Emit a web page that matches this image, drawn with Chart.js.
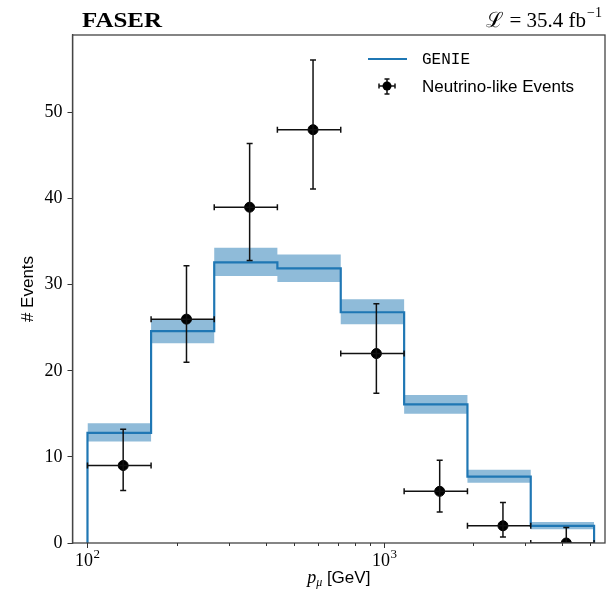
<!DOCTYPE html>
<html>
<head>
<meta charset="utf-8">
<script src="https://cdn.jsdelivr.net/npm/chart.js@4.4.1/dist/chart.umd.min.js"></script>
<style>
  body { margin: 0; background: #fff; }
  canvas { display: block; }
</style>
</head>
<body>
<canvas id="faserChart" width="606" height="597"></canvas>
<script>
// bins in p_mu (GeV), log spaced
const binEdges = [100, 164, 268, 438, 717, 1174, 1921, 3143, 5144];
const binCenters = [132, 216, 353, 578, 946, 1548, 2532, 4144];

// GENIE prediction + uncertainty band
const genie   = [12.8, 24.6, 32.6, 31.9, 26.8, 16.1, 7.7, 2.0];
const genieHi = [13.9, 26.0, 34.3, 33.5, 28.3, 17.2, 8.5, 2.45];
const genieLo = [11.8, 23.2, 31.0, 30.3, 25.4, 15.0, 7.0, 1.6];

// observed neutrino-like events
const events   = [9, 26, 39, 48, 22, 6, 2, 0];
const eventsHi = [13.2, 32.2, 46.4, 56.1, 27.8, 9.6, 4.7, 1.8];
const eventsLo = [6.1, 21.0, 32.8, 41.1, 17.4, 3.6, 0.7, 0];

const xMajorTicks = [100, 1000];
const xMinorTicks = [200, 300, 400, 500, 600, 700, 800, 900, 2000, 3000, 4000, 5000];
const xTickExp = {100: '2', 1000: '3'};
const yTicks = [0, 10, 20, 30, 40, 50];

const blue = '#1f77b4';
const serif = '"Liberation Serif", "DejaVu Serif", serif';
const sans = '"Liberation Sans", Arial, sans-serif';

// histogram outline points (stepped)
function stepPoints(vals, closed) {
  const pts = [];
  const n = vals.length;
  if (closed) pts.push({x: binEdges[0], y: 0});
  vals.forEach((v, i) => pts.push({x: binEdges[i], y: v}));
  pts.push({x: binEdges[n], y: vals[n - 1]});
  if (closed) pts.push({x: binEdges[n], y: 0});
  return pts;
}

const decor = {
  id: 'decor',
  afterDatasetsDraw(chart) {
    const {ctx, chartArea: a, scales: {x, y}} = chart;
    ctx.save();
    ctx.beginPath();
    ctx.rect(a.left, a.top, a.right - a.left, a.bottom - a.top);
    ctx.clip();
    ctx.strokeStyle = '#111';
    ctx.lineWidth = 1.5;
    events.forEach((v, i) => {
      const px = x.getPixelForValue(binCenters[i]);
      const py = y.getPixelForValue(v);
      const x0 = x.getPixelForValue(binEdges[i]);
      const x1 = x.getPixelForValue(binEdges[i + 1]);
      const y0 = y.getPixelForValue(eventsLo[i]);
      const y1 = y.getPixelForValue(eventsHi[i]);
      ctx.beginPath();
      ctx.moveTo(x0, py); ctx.lineTo(x1, py);
      ctx.moveTo(x0, py - 3); ctx.lineTo(x0, py + 3);
      ctx.moveTo(x1, py - 3); ctx.lineTo(x1, py + 3);
      ctx.moveTo(px, y0); ctx.lineTo(px, y1);
      ctx.moveTo(px - 3, y0); ctx.lineTo(px + 3, y0);
      ctx.moveTo(px - 3, y1); ctx.lineTo(px + 3, y1);
      ctx.stroke();
    });
    ctx.restore();
  },
  afterDraw(chart) {
    const {ctx, chartArea: a, scales: {x}} = chart;
    ctx.save();
    // frame
    ctx.strokeStyle = '#444';
    ctx.lineWidth = 1.3;
    ctx.strokeRect(a.left, a.top, a.right - a.left, a.bottom - a.top);

    // x ticks, major and minor, with 10^n labels
    ctx.strokeStyle = '#333';
    ctx.lineWidth = 1;
    ctx.fillStyle = '#000';
    xMajorTicks.concat(xMinorTicks).forEach(t => {
      const px = Math.round(x.getPixelForValue(t)) + 0.5;
      const major = xMajorTicks.includes(t);
      ctx.beginPath();
      ctx.moveTo(px, a.bottom);
      ctx.lineTo(px, a.bottom + (major ? 5 : 3));
      ctx.stroke();
      if (major) {
        ctx.font = '18px ' + serif;
        const w = ctx.measureText('10').width;
        ctx.textAlign = 'left';
        ctx.fillText('10', px - (w + 7) / 2, 566);
        ctx.font = '13px ' + serif;
        ctx.fillText(xTickExp[t], px - (w + 7) / 2 + w + 0.5, 558);
      }
    });

    ctx.textBaseline = 'alphabetic';

    // titles
    ctx.save();
    ctx.font = 'bold 22px ' + serif;
    const fw = ctx.measureText('FASER').width;
    ctx.translate(82, 27);
    ctx.scale(80 / fw, 1);
    ctx.textAlign = 'left';
    ctx.fillText('FASER', 0, 0);
    ctx.restore();

    ctx.font = '14px ' + serif;
    const supW = ctx.measureText('−1').width;
    ctx.font = '21px ' + serif;
    ctx.textAlign = 'right';
    ctx.fillText('ℒ = 35.4 fb', 602 - supW - 1, 27);
    ctx.font = '14px ' + serif;
    ctx.textAlign = 'left';
    ctx.fillText('−1', 602 - supW, 17);

    // axis titles
    ctx.font = 'italic 18px ' + serif;
    const pW = ctx.measureText('p').width;
    ctx.font = 'italic 12px ' + serif;
    const muW = ctx.measureText('μ').width;
    ctx.font = '17px ' + sans;
    const unitW = ctx.measureText(' [GeV]').width;
    let tx = (a.left + a.right) / 2 - (pW + muW + unitW) / 2;
    ctx.textAlign = 'left';
    ctx.font = 'italic 18px ' + serif;
    ctx.fillText('p', tx, 583);
    ctx.font = 'italic 12px ' + serif;
    ctx.fillText('μ', tx + pW, 586);
    ctx.font = '17px ' + sans;
    ctx.fillText(' [GeV]', tx + pW + muW, 583);

    ctx.save();
    ctx.translate(33, (a.top + a.bottom) / 2);
    ctx.rotate(-Math.PI / 2);
    ctx.textAlign = 'center';
    ctx.font = '17px ' + sans;
    ctx.fillText('# Events', 0, 0);
    ctx.restore();

    // legend
    ctx.strokeStyle = blue;
    ctx.lineWidth = 2.2;
    ctx.beginPath();
    ctx.moveTo(368, 59); ctx.lineTo(407, 59);
    ctx.stroke();
    ctx.fillStyle = '#000';
    ctx.font = '16px "Liberation Mono", "DejaVu Sans Mono", monospace';
    ctx.textBaseline = 'middle';
    ctx.fillText('GENIE', 422, 60);

    ctx.strokeStyle = '#111';
    ctx.lineWidth = 1.5;
    ctx.beginPath();
    ctx.moveTo(379, 86); ctx.lineTo(395, 86);
    ctx.moveTo(379, 83.5); ctx.lineTo(379, 88.5);
    ctx.moveTo(395, 83.5); ctx.lineTo(395, 88.5);
    ctx.moveTo(387, 79); ctx.lineTo(387, 94);
    ctx.moveTo(384.5, 79); ctx.lineTo(389.5, 79);
    ctx.moveTo(384.5, 94); ctx.lineTo(389.5, 94);
    ctx.stroke();
    ctx.beginPath();
    ctx.arc(387, 86, 4.5, 0, Math.PI * 2);
    ctx.fill();
    ctx.font = '17px ' + sans;
    ctx.fillText('Neutrino-like Events', 422, 87);
    ctx.restore();
  }
};

const ctx = document.getElementById('faserChart').getContext('2d');
const faserChart = new Chart(ctx, {
  type: 'line',
  data: {
    datasets: [
      {
        label: 'band low',
        data: stepPoints(genieLo, false),
        stepped: true,
        borderWidth: 0,
        borderColor: 'rgba(0,0,0,0)',
        pointRadius: 0,
        fill: false,
        order: 3
      },
      {
        label: 'band high',
        data: stepPoints(genieHi, false),
        stepped: true,
        borderWidth: 0,
        borderColor: 'rgba(0,0,0,0)',
        backgroundColor: 'rgba(31,119,180,0.5)',
        pointRadius: 0,
        fill: '-1',
        order: 3
      },
      {
        label: 'GENIE',
        data: stepPoints(genie, true),
        stepped: true,
        borderColor: blue,
        borderWidth: 2.2,
        pointRadius: 0,
        fill: false,
        order: 2
      },
      {
        type: 'scatter',
        label: 'Neutrino-like Events',
        data: binCenters.map((c, i) => ({x: c, y: events[i]})),
        backgroundColor: '#000',
        borderColor: '#000',
        pointRadius: 5,
        showLine: false,
        clip: 0,
        order: 1
      }
    ]
  },
  options: {
    responsive: false,
    animation: false,
    layout: { autoPadding: false, padding: { top: 35, right: 1, left: 0, bottom: 0 } },
    plugins: {
      legend: { display: false },
      tooltip: { enabled: false }
    },
    scales: {
      x: {
        type: 'logarithmic',
        min: 89,
        max: 5600,
        afterBuildTicks: scale => {
          scale.ticks = xMajorTicks.concat(xMinorTicks).sort((p, q) => p - q)
            .map(v => ({value: v, major: xMajorTicks.includes(v)}));
        },
        afterFit: scale => {
          scale.height = 54;
          scale.paddingLeft = 0;
          scale.paddingRight = 0;
        },
        grid: { display: false },
        border: { display: false },
        ticks: { display: false }
      },
      y: {
        min: 0,
        max: 59,
        afterBuildTicks: scale => {
          scale.ticks = yTicks.map(v => ({value: v}));
        },
        afterFit: scale => {
          scale.width = 72.5;
          scale.paddingTop = 0;
          scale.paddingBottom = 0;
        },
        grid: { drawOnChartArea: false, drawTicks: true, tickLength: 5, tickColor: '#333' },
        border: { display: true, color: '#444', width: 1.3 },
        ticks: {
          padding: 5,
          color: '#000',
          font: { family: serif, size: 18 }
        }
      }
    }
  },
  plugins: [decor]
});
</script>
</body>
</html>
